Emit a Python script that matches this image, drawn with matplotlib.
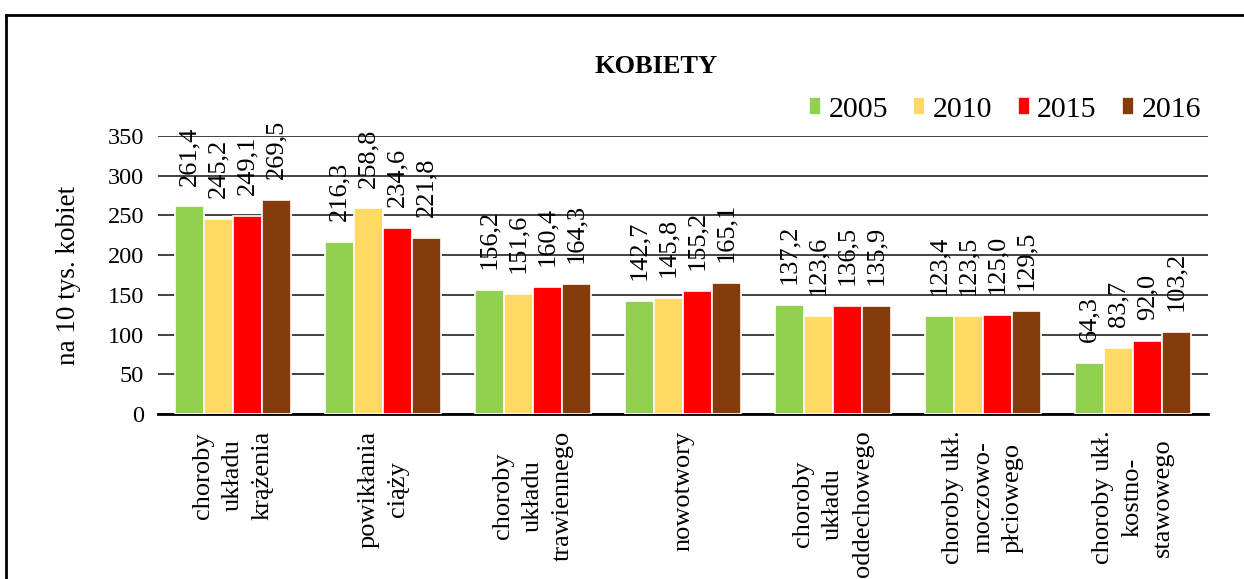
import matplotlib.pyplot as plt
import numpy as np
from matplotlib.lines import Line2D

plt.rcParams['font.family'] = ['Liberation Serif', 'DejaVu Serif']

categories = [
    "choroby\nukładu\nkrążenia",
    "powikłania\nciąży",
    "choroby\nukładu\ntrawiennego",
    "nowotwory",
    "choroby\nukładu\noddechowego",
    "choroby ukł.\nmoczowo-\npłciowego",
    "choroby ukł.\nkostno-\nstawowego",
]
years = ["2005", "2010", "2015", "2016"]
v2005 = [261.4, 216.3, 156.2, 142.7, 137.2, 123.4, 64.3]
v2010 = [245.2, 258.8, 151.6, 145.8, 123.6, 123.5, 83.7]
v2015 = [249.1, 234.6, 160.4, 155.2, 136.5, 125.0, 92.0]
v2016 = [269.5, 221.8, 164.3, 165.1, 135.9, 129.5, 103.2]
series = [v2005, v2010, v2015, v2016]
colors = ["#92D050", "#FFD966", "#FF0000", "#843C0C"]

fig = plt.figure(figsize=(12.44, 5.79), dpi=100)
ax = fig.add_axes([0.127, 0.285, 0.844, 0.48])

x = np.arange(len(categories))
w = 0.193
for i, (vals, c, yr) in enumerate(zip(series, colors, years)):
    pos = x + (i - 1.5) * w
    bars = ax.bar(pos, vals, width=w, color=c, edgecolor="white", linewidth=1.2,
                  label=yr, zorder=3)
    for b, v in zip(bars, vals):
        ax.annotate(f"{v:.1f}".replace(".", ","), (b.get_x() + b.get_width() / 2, v),
                    xytext=(0, 15), textcoords="offset points", rotation=90,
                    ha="center", va="bottom", fontsize=19)

ax.set_xlim(-0.5, len(categories) - 0.5)
ax.set_ylim(0, 350)
ax.set_yticks(range(0, 351, 50))
ax.yaxis.grid(True, color="#333333", linewidth=1.3, zorder=0)
ax.set_axisbelow(True)
for s in ["top", "right", "left"]:
    ax.spines[s].set_visible(False)
ax.spines["bottom"].set_linewidth(2)
ax.tick_params(axis="y", length=0, labelsize=17.5, pad=10)
ax.tick_params(axis="x", length=0, pad=12)
ax.set_xticks(x)
ax.set_xticklabels(categories, rotation=90, fontsize=19, multialignment="center",
                   linespacing=1.45)
ax.set_ylabel("na 10 tys. kobiet", fontsize=19.5, labelpad=19)

fig.text(0.527, 0.885, "KOBIETY", ha="center", va="center", fontsize=19,
         fontweight="bold")
ax.legend(loc="lower right", bbox_to_anchor=(1.006, 1.0), ncol=4, frameon=False,
          fontsize=21.5, handlelength=0.4, handleheight=0.55, handletextpad=0.25,
          columnspacing=0.85, borderaxespad=0.05)

fig.add_artist(Line2D([6 / 1244, 1], [1 - 15 / 579] * 2, color="black", linewidth=2,
                      transform=fig.transFigure))
fig.add_artist(Line2D([6 / 1244] * 2, [0, 1 - 15 / 579], color="black", linewidth=2,
                      transform=fig.transFigure))

fig.savefig("out.png", dpi=100)
